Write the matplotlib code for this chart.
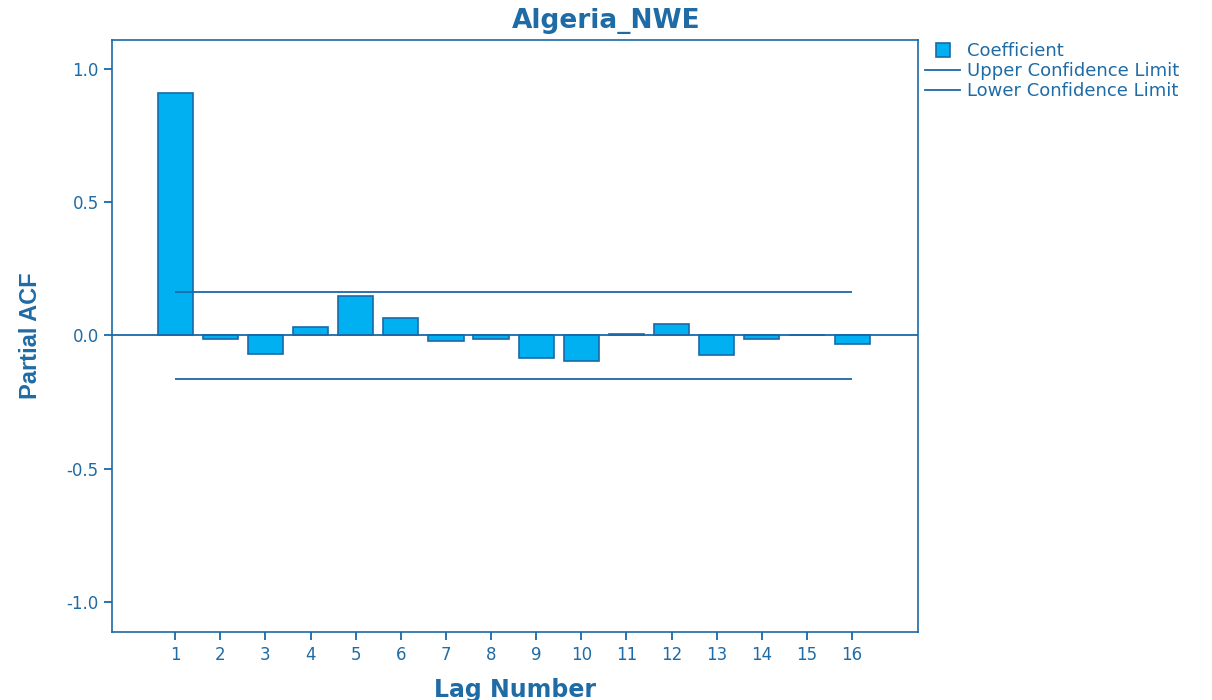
#pacf_plot.py

import matplotlib
matplotlib.use("Agg")
import matplotlib.pyplot as plt
from matplotlib.lines import Line2D
import numpy as np

# Data
lags = list(range(1, 17))
pacf_values = [0.910, -0.015, -0.068, 0.031, 0.147, 0.065, -0.020, -0.014,
               -0.085, -0.096, 0.004, 0.043, -0.074, -0.014, 0.0, -0.031]
upper_limit = 0.162
lower_limit = -0.162
y_ticks = [-1.0, -0.5, 0.0, 0.5, 1.0]

title = "Algeria_NWE"
x_label = "Lag Number"
y_label = "Partial ACF"
legend_labels = ["Coefficient", "Upper Confidence Limit", "Lower Confidence Limit"]

# Colours
bar_color = "#00B0F0"
line_color = "#1A68A8"
text_color = "#1F6BA5"


def plot_pacf():
    fig = plt.figure(figsize=(12.12, 7.0), dpi=100)
    ax = fig.add_axes([112 / 1212, 68 / 700, 806 / 1212, 592 / 700])

    ax.bar(lags, pacf_values, width=0.78, color=bar_color,
           edgecolor=line_color, linewidth=1.2, zorder=2)
    ax.axhline(0, color=line_color, linewidth=1.3, zorder=3)
    ax.hlines([upper_limit, lower_limit], lags[0], lags[-1],
              color=line_color, linewidth=1.3, zorder=3)

    ax.set_xlim(-0.4, 17.46)
    ax.set_ylim(-1.113, 1.109)
    ax.set_xticks(lags)
    ax.set_xticklabels([str(l) for l in lags])
    ax.set_yticks(y_ticks)
    ax.set_yticklabels([f"{v:.1f}" for v in y_ticks])

    for spine in ax.spines.values():
        spine.set_color(line_color)
        spine.set_linewidth(1.2)
    ax.tick_params(axis="both", colors=line_color, labelcolor=text_color,
                   length=6, width=1.3, labelsize=12, direction="out")
    ax.tick_params(axis="x", pad=4)

    ax.set_xlabel(x_label, fontsize=17, fontweight="bold", color=text_color, labelpad=10)
    ax.set_ylabel(y_label, fontsize=17, fontweight="bold", color=text_color,
                  family=["Liberation Sans", "DejaVu Sans"], labelpad=18)
    fig.text(0.5, 1 - 21 / 700, title, ha="center", va="center",
             fontsize=19, fontweight="bold", color=text_color)

    handles = [
        Line2D([], [], linestyle="none", marker="s", markersize=10,
               markerfacecolor=bar_color, markeredgecolor=line_color, markeredgewidth=1.2),
        Line2D([], [], color=line_color, linewidth=1.3),
        Line2D([], [], color=line_color, linewidth=1.3),
    ]
    leg = ax.legend(handles, legend_labels, loc="upper left",
                    bbox_to_anchor=(925 / 1212, 1 - 42 / 700),
                    bbox_transform=fig.transFigure, frameon=False,
                    fontsize=13, handlelength=1.95, handletextpad=0.4,
                    labelspacing=0.12, borderpad=0, borderaxespad=0)
    for txt in leg.get_texts():
        txt.set_color(text_color)

    fig.savefig("out.png", dpi=100)


plot_pacf()
